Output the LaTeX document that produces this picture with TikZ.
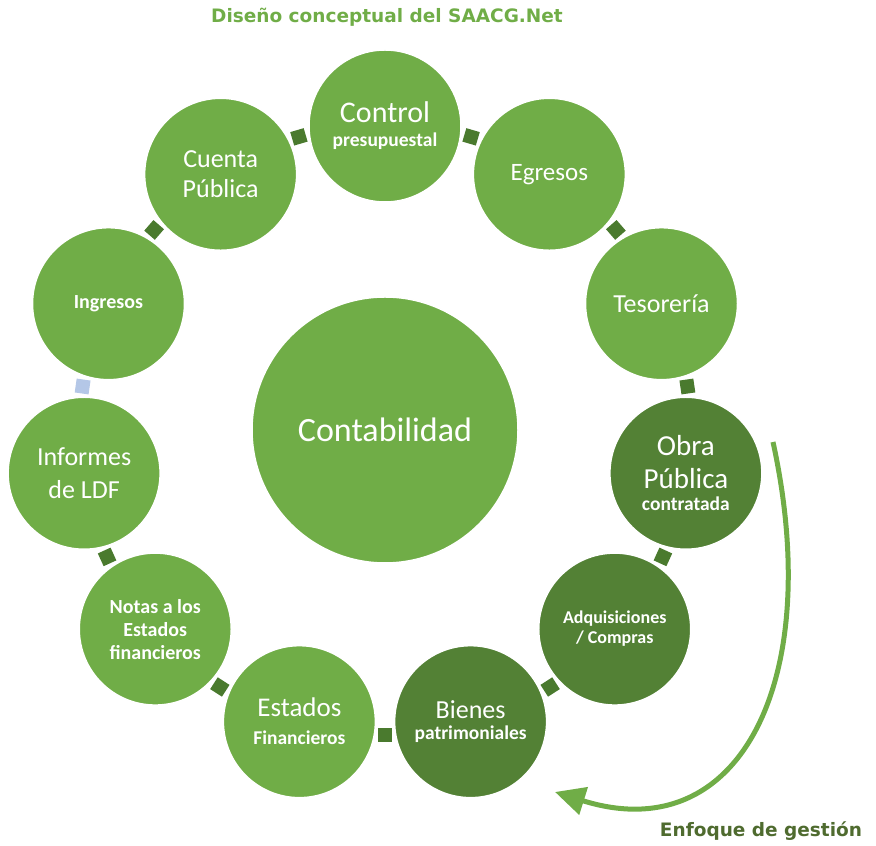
\documentclass[tikz,border=0pt]{standalone}
\usepackage{fontspec}
\setmainfont{Carlito}
\newfontfamily\headfont{DejaVu Sans}
\usetikzlibrary{arrows.meta}
\definecolor{leaf}{HTML}{70AD47}
\definecolor{moss}{HTML}{538135}
\definecolor{knot}{HTML}{4A7A2E}
\definecolor{haze}{HTML}{B4C7E7}
\definecolor{deepleaf}{HTML}{4F6B2F}
\newcommand{\subtxt}[1]{{\fontsize{19.5}{20}\selectfont\bfseries #1}}
\tikzset{
	stage/.style={circle, fill=leaf, draw=white, line width=1.5pt, minimum size=152pt, inner sep=0pt,
		text=white, align=center, font=\fontsize{26}{30}\selectfont},
	stage dark/.style={stage, fill=moss},
	stage bold/.style={stage, font=\fontsize{20}{23}\selectfont\bfseries},
	core/.style={stage, minimum size=266pt, font=\fontsize{34}{40}\selectfont},
	link/.style={rectangle, fill=knot, minimum size=14pt, inner sep=0pt, sloped},
	ring/.style={draw=none, bend left=16},
	heading/.style={font=\headfont\bfseries\fontsize{18.5}{22}\selectfont},
	sweep/.style={draw=leaf, line width=5pt, -{Triangle[length=30pt, width=28pt]}}
}
\begin{document}
\begin{tikzpicture}[x=1pt, y=1pt]
		\useasboundingbox (0,0) rectangle (876,846);
		\node(title)[heading, text=leaf] at (387,829) {Diseño conceptual del SAACG.Net};
		\node(focus)[heading, text=deepleaf] at (761,15) {Enfoque de gestión};

		\begin{scope}[shift={(385,416)}]
		\node(conta)[core] at (0,0) {Contabilidad};
		\node(control)[stage, font=\fontsize{30}{24}\selectfont] at (90:304) {Control\\\subtxt{presupuestal}};
		\node(egresos)[stage, font=\fontsize{25}{30}\selectfont] at (57.27:304) {Egresos};
		\node(tesoreria)[stage] at (24.55:304) {Tesorería};
		\node(obra)[stage dark, font=\fontsize{29}{33}\selectfont] at (-8.18:304) {Obra\\Pública\\[-11pt]\subtxt{contratada}};
		\node(adquis)[stage dark, font=\fontsize{18}{20}\selectfont\bfseries] at (-40.91:304) {Adquisiciones\\/ Compras};
		\node(bienes)[stage dark, font=\fontsize{26}{21}\selectfont] at (-73.64:304) {Bienes\\\subtxt{patrimoniales}};
		\node(estados)[stage, font=\fontsize{27}{28}\selectfont] at (-106.36:304) {Estados\\\subtxt{Financieros}};
		\node(notas)[stage bold] at (-139.09:304) {Notas a los\\Estados\\financieros};
		\node(informes)[stage, font=\fontsize{26}{33}\selectfont] at (-171.82:304) {Informes\\de LDF};
		\node(ingresos)[stage bold] at (155.45:304) {Ingresos};
		\node(cuenta)[stage] at (122.73:304) {Cuenta\\Pública};
		\end{scope}

		\path (control.center) edge[ring] node[link]{} (egresos.center);
		\path (egresos.center) edge[ring] node[link]{} (tesoreria.center);
		\path (tesoreria.center) edge[ring] node[link]{} (obra.center);
		\path (obra.center) edge[ring] node[link]{} (adquis.center);
		\path (adquis.center) edge[ring] node[link]{} (bienes.center);
		\path (bienes.center) edge[ring] node[link]{} (estados.center);
		\path (estados.center) edge[ring] node[link]{} (notas.center);
		\path (notas.center) edge[ring] node[link]{} (informes.center);
		\path (informes.center) edge[ring] node[link, fill=haze]{} (ingresos.center);
		\path (ingresos.center) edge[ring] node[link]{} (cuenta.center);
		\path (cuenta.center) edge[ring] node[link]{} (control.center);

		\coordinate(sweepstart) at (773,404);
		\coordinate(sweepend) at (555,54);
		\draw[sweep] (sweepstart) .. controls (825,166) and (740,-4) .. (sweepend);
\end{tikzpicture}
\end{document}
